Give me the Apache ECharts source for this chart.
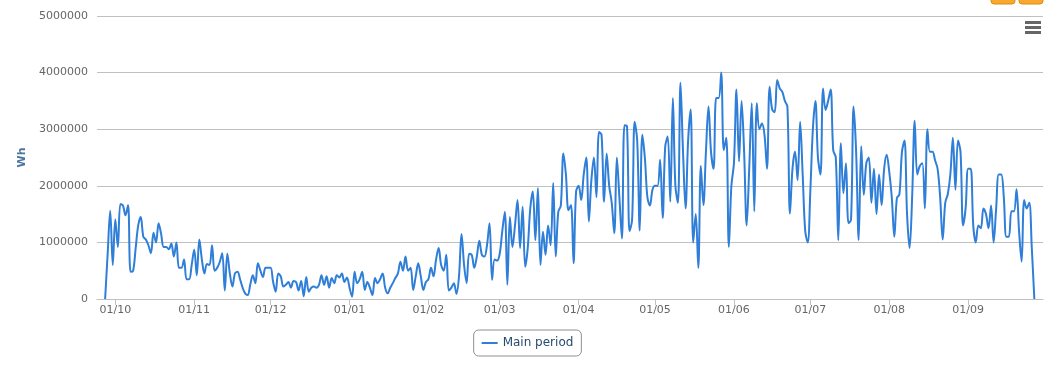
<!DOCTYPE html>
<html><head><meta charset="utf-8">
<script src="https://cdn.jsdelivr.net/npm/echarts@6/dist/echarts.min.js"></script>
<style>html,body{margin:0;padding:0;background:#fff}#c{width:1055px;height:371px}</style>
</head><body><div id="c"></div>
<script>
const seriesName = 'Main period';
const yAxisTitle = 'Wh';
const startDate = '2022-09-27';
const values = [
0,800000,1560000,600000,1410000,920000,1680000,1650000,1480000,1660000,
480000,500000,900000,1300000,1450000,1100000,1050000,950000,810000,1170000,
1000000,1340000,1150000,920000,920000,880000,980000,750000,1000000,550000,
550000,700000,350000,350000,600000,870000,420000,1050000,700000,450000,
620000,600000,950000,500000,550000,650000,810000,150000,800000,450000,
220000,450000,480000,350000,200000,100000,70000,250000,420000,280000,
630000,500000,390000,550000,550000,550000,300000,130000,450000,400000,
220000,250000,300000,200000,320000,300000,150000,320000,50000,390000,
130000,200000,220000,200000,250000,420000,250000,400000,200000,370000,
280000,420000,380000,450000,300000,380000,200000,40000,480000,280000,
350000,480000,160000,300000,200000,70000,370000,280000,350000,450000,
200000,100000,200000,280000,370000,450000,660000,500000,750000,500000,
550000,160000,400000,630000,400000,160000,300000,350000,550000,400000,
700000,900000,600000,500000,780000,150000,200000,280000,90000,400000,
1150000,600000,280000,800000,780000,550000,750000,1030000,780000,750000,
950000,1340000,340000,700000,680000,800000,1200000,1540000,250000,1450000,
920000,1300000,1750000,900000,1630000,570000,900000,1600000,1900000,1040000,
1960000,600000,1190000,780000,1300000,950000,2050000,750000,1540000,1650000,
2570000,2200000,1570000,1660000,630000,1900000,2000000,1750000,2200000,2500000,
1370000,2100000,2500000,1800000,2950000,2900000,1720000,2570000,2000000,1700000,
1160000,2500000,1800000,1070000,3070000,3050000,1200000,1400000,3130000,2800000,
1210000,2900000,2500000,1800000,1650000,1930000,2000000,2000000,2460000,1430000,
2690000,2870000,1720000,3550000,2000000,1700000,3820000,2600000,1600000,2800000,
3350000,1000000,1500000,550000,2350000,1660000,2600000,3400000,2600000,2300000,
3550000,3550000,4000000,2630000,2850000,920000,2000000,2400000,3700000,2430000,
3500000,2600000,1300000,2300000,3460000,1550000,3460000,3000000,3100000,2900000,
2300000,3750000,3350000,3300000,3870000,3720000,3660000,3500000,3400000,1510000,
2300000,2600000,2100000,3130000,2200000,1200000,1000000,1900000,3000000,3500000,
2500000,2200000,3720000,3340000,3500000,3700000,2630000,2500000,1040000,2750000,
1870000,2400000,1340000,1400000,3400000,2600000,1040000,2700000,1840000,2400000,
2500000,1700000,2300000,1500000,2200000,1660000,2300000,2550000,2250000,1800000,
1100000,1780000,1850000,2600000,2800000,1500000,900000,1800000,3150000,2200000,
2350000,2400000,1600000,3000000,2600000,2600000,2450000,2300000,1800000,1050000,
1700000,1850000,2200000,2850000,1930000,2800000,2600000,1300000,1600000,2300000,
2300000,1300000,1000000,1300000,1250000,1600000,1500000,1250000,1650000,1000000,
1600000,2200000,2200000,1800000,1100000,1100000,1550000,1550000,1940000,1200000,
660000,1750000,1600000,1700000,900000,0
];
const monthTicks = ['2022-10-01','2022-11-01','2022-12-01','2023-01-01','2023-02-01','2023-03-01',
  '2023-04-01','2023-05-01','2023-06-01','2023-07-01','2023-08-01','2023-09-01'];
const yTicks = [0,1000000,2000000,3000000,4000000,5000000];

const DAY = 86400000;
const t0 = Date.parse(startDate + 'T00:00:00Z');
const seriesData = values.map((v, i) => [t0 + i * DAY, v]);
const tickTimes = monthTicks.map(s => Date.parse(s + 'T00:00:00Z'));
const oct1 = tickTimes[0];
const pad = n => (n < 10 ? '0' : '') + n;
const fmt = ts => { const d = new Date(ts); return pad(d.getUTCDate()) + '/' + pad(d.getUTCMonth() + 1); };

const FONT = 'DejaVu Sans';
const chart = echarts.init(document.getElementById('c'), null, {renderer: 'canvas'});
chart.setOption({
  animation: false,
  backgroundColor: '#fff',
  textStyle: {fontFamily: FONT},
  grid: {left: 97, right: 12, top: 16, bottom: 72, containLabel: false},
  xAxis: {
    type: 'value',
    min: oct1 - 7.19 * DAY,
    max: oct1 + 364.4 * DAY,
    splitLine: {show: false},
    axisLine: {show: true, onZero: false, lineStyle: {color: '#c0c0c0', width: 1}},
    axisTick: {show: true, length: 6, customValues: tickTimes, lineStyle: {color: '#c0c0c0'}},
    axisLabel: {customValues: tickTimes, formatter: v => fmt(v), color: '#666', fontSize: 11, margin: 6, fontFamily: FONT, showMinLabel: true, showMaxLabel: true},
    minorTick: {show: false}
  },
  yAxis: {
    type: 'value',
    min: yTicks[0], max: yTicks[yTicks.length - 1], interval: 1000000,
    name: yAxisTitle, nameLocation: 'middle', nameGap: 63, nameRotate: 90,
    nameTextStyle: {color: '#4d759e', fontWeight: 'bold', fontSize: 11, fontFamily: FONT},
    axisLine: {show: false}, axisTick: {show: false},
    axisLabel: {color: '#666', fontSize: 11, margin: 9, fontFamily: FONT, formatter: v => String(v)},
    splitLine: {lineStyle: {color: '#c0c0c0', width: 1}}
  },
  legend: {
    show: true, bottom: 15, left: 'center',
    data: [seriesName],
    icon: 'rect', itemWidth: 16, itemHeight: 2,
    padding: [7, 8, 7, 8], itemGap: 5,
    borderColor: '#909090', borderWidth: 1, borderRadius: 5,
    textStyle: {color: '#274b6d', fontSize: 12, fontFamily: FONT}
  },
  series: [{
    name: seriesName, type: 'line', data: seriesData,
    smooth: 0.35, symbol: 'none', showSymbol: false,
    lineStyle: {color: '#2f7ed8', width: 2}, itemStyle: {color: '#2f7ed8'}
  }],
  graphic: [
    {type: 'rect', shape: {x: 991, y: -6, width: 24, height: 10, r: 3}, style: {fill: '#f7a831', stroke: '#e08a10', lineWidth: 1}},
    {type: 'rect', shape: {x: 1019, y: -6, width: 24, height: 10, r: 3}, style: {fill: '#f7a831', stroke: '#e08a10', lineWidth: 1}},
    {type: 'rect', shape: {x: 1025, y: 21, width: 16, height: 3}, style: {fill: '#666'}},
    {type: 'rect', shape: {x: 1025, y: 26, width: 16, height: 3}, style: {fill: '#666'}},
    {type: 'rect', shape: {x: 1025, y: 31, width: 16, height: 3}, style: {fill: '#666'}}
  ]
});
</script></body></html>
